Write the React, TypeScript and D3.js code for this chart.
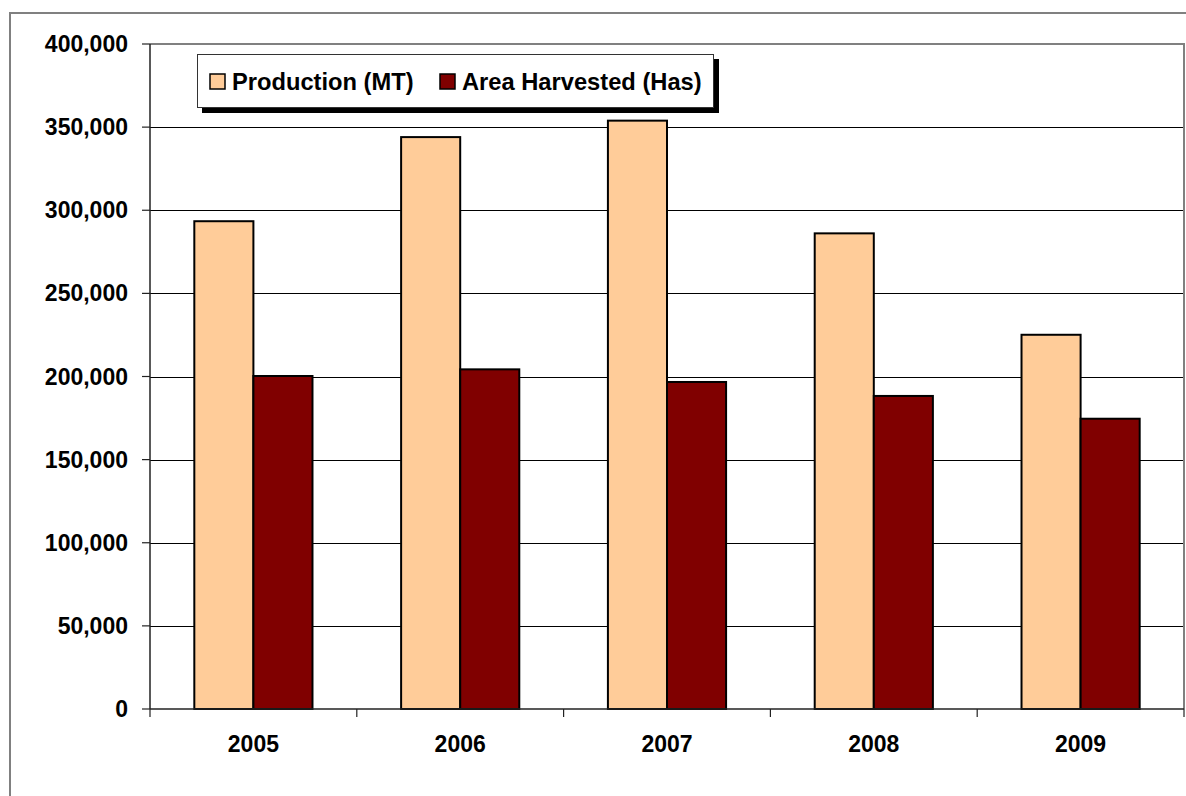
import React from "react";
import * as d3 from "d3";

const years = ["2005", "2006", "2007", "2008", "2009"];
const production = [293400, 344000, 353900, 286100, 225100];
const areaHarvested = [200300, 204300, 196700, 188300, 174600];
const yTicks = [0, 50000, 100000, 150000, 200000, 250000, 300000, 350000, 400000];
const seriesNames = ["Production (MT)", "Area Harvested (Has)"];
const seriesColors = ["#FFCC99", "#800000"];

const W = 1186, H = 796;
const L = 150, R = 1184, T = 44, B = 709;
const FONT = "'Liberation Sans', Arial, sans-serif";

export default function App() {
  const x = d3.scaleBand<string>().domain(years).range([L, R]).paddingInner(0).paddingOuter(0);
  const y = d3.scaleLinear().domain([0, 400000]).range([B, T]);
  const bw = x.bandwidth() / 3.5;
  const fmt = d3.format(",");
  const series = [production, areaHarvested];

  const legendItems = [
    { name: seriesNames[0], color: seriesColors[0], sx: 210, tx: 232 },
    { name: seriesNames[1], color: seriesColors[1], sx: 440, tx: 462 },
  ];

  return (
    <svg width={W} height={H} style={{ position: "absolute", left: 0, top: 0, background: "#fff" }}>
      <rect x={0} y={0} width={W} height={H} fill="#fff" />
      {/* outer frame */}
      <path d={`M10,${H} L10,13 L${W},13`} fill="none" stroke="#808080" strokeWidth={2} />
      {/* gridlines */}
      {yTicks.slice(1, -1).map((t) => (
        <line key={t} x1={L} x2={R} y1={Math.round(y(t)) + 0.5} y2={Math.round(y(t)) + 0.5} stroke="#000" strokeWidth={1} />
      ))}
      {/* plot border top/right */}
      <path d={`M${L},${T} L${R},${T} L${R},${B}`} fill="none" stroke="#808080" strokeWidth={2} />
      {/* bars */}
      {series.map((vals, si) =>
        years.map((yr, i) => {
          const x0 = (x(yr) as number) + 0.75 * bw + si * bw;
          return (
            <rect key={`${si}-${yr}`} x={x0} y={y(vals[i])} width={bw} height={B - y(vals[i])}
              fill={seriesColors[si]} stroke="#000" strokeWidth={2} />
          );
        })
      )}
      {/* axes */}
      <line x1={L} x2={L} y1={T} y2={B} stroke="#222" strokeWidth={1.5} />
      <line x1={L} x2={R} y1={B} y2={B} stroke="#222" strokeWidth={1.5} />
      {yTicks.map((t) => (
        <g key={t}>
          <line x1={142} x2={L} y1={y(t)} y2={y(t)} stroke="#222" strokeWidth={1.2} />
          <text x={128} y={y(t) + 8} textAnchor="end" fontFamily={FONT} fontWeight="bold" fontSize={23} fill="#000">
            {fmt(t)}
          </text>
        </g>
      ))}
      {years.map((yr) => (
        <g key={yr}>
          <line x1={x(yr) as number} x2={x(yr) as number} y1={B} y2={717} stroke="#222" strokeWidth={1.2} />
          <text x={(x(yr) as number) + x.bandwidth() / 2} y={752} textAnchor="middle" fontFamily={FONT} fontWeight="bold" fontSize={23} fill="#000">
            {yr}
          </text>
        </g>
      ))}
      <line x1={R} x2={R} y1={B} y2={717} stroke="#222" strokeWidth={1.2} />
      {/* legend */}
      <rect x={202} y={59} width={517} height={54} fill="#000" />
      <rect x={197.5} y={54.5} width={516} height={53} fill="#fff" stroke="#333" strokeWidth={1} />
      {legendItems.map((it) => (
        <g key={it.name}>
          <rect x={it.sx} y={74} width={15} height={15} fill={it.color} stroke="#000" strokeWidth={1.5} />
          <text x={it.tx} y={90} fontFamily={FONT} fontWeight="bold" fontSize={23.7} fill="#000">
            {it.name}
          </text>
        </g>
      ))}
    </svg>
  );
}
